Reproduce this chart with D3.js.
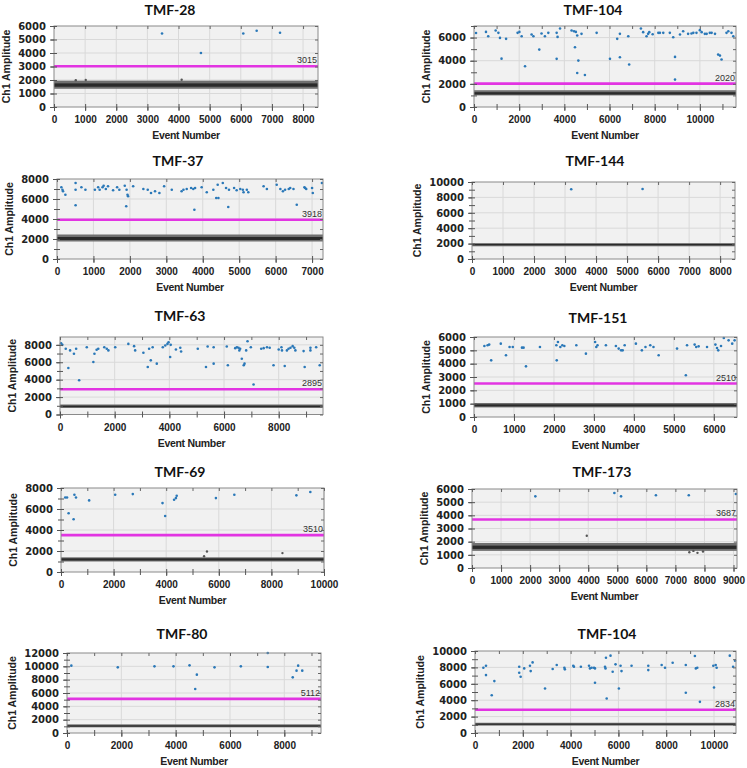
<!DOCTYPE html>
<html><head><meta charset="utf-8">
<script src="https://cdn.jsdelivr.net/npm/d3@7"></script>
<style>body{margin:0;background:#fff}</style>
</head><body>
<svg id="c" width="747" height="768"></svg>
<script>
// ---------- DATA ----------
const panelTitles = ["TMF-28","TMF-104","TMF-37","TMF-144","TMF-63","TMF-151","TMF-69","TMF-173","TMF-80","TMF-104"];
const thresholds  = [3015, 2020, 3918, null, 2895, 2510, 3510, 3687, 5112, 2834];
const xMax        = [8480, 11600, 7300, 8480, 9620, 6580, 10000, 9120, 9350, 10920];
const yMax        = [6000, 7000, 8000, 10000, 8900, 6000, 8000, 6000, 12000, 10000];
const xLabelStep  = [1000, 2000, 1000, 1000, 2000, 1000, 2000, 1000, 2000, 2000];
const yLabelStep  = [1000, 2000, 2000, 2000, 2000, 1000, 2000, 1000, 2000, 2000];
const minorStep   = 1000;
// negative droplet cloud (outer band and dense core), amplitude
const bandLow  = [1350, 1000, 1750, 1650, 750, 720, 1000, 1300, 850, 900];
const bandHigh = [1950, 1450, 2450, 2050, 1150, 1050, 1400, 1900, 1300, 1250];
const coreLow  = [1500, 1080, 1900, 1780, 850, 800, 1100, 1450, 950, 1000];
const coreHigh = [1750, 1280, 2200, 1960, 1020, 950, 1300, 1700, 1150, 1150];

// positive droplets [event number, amplitude]
const pos28 = [[3470,5450],[4720,4000],[6080,5450],[6510,5650],[7260,5500]];
const pos104a = [[90,6400],[530,6490],[630,6120],[960,6610],[1080,6410],[1150,5970],[1220,4180],[1420,5890],[1930,6410],[2010,6490],[2110,6120],[2260,3520],[2550,6260],[2630,6120],[2890,4960],[2990,6350],[3140,6120],[3290,6410],[3660,6410],[3660,4160],[3700,6060],[3810,6780],[4320,6610],[4430,6550],[4470,5170],[4510,6490],[4570,6180],[4570,2940],[4620,4010],[4760,6320],[4910,2770],[5430,6410],[6020,4160],[6340,5890],[6460,6320],[6460,4300],[6830,6120],[6870,3670],[7390,6780],[7490,6470],[7640,6120],[7710,6320],[7760,6470],[7910,6290],[8160,6410],[8230,6410],[8380,6410],[8670,6410],[8820,6030],[8900,4330],[8900,2370],[9120,6260],[9260,6550],[9480,6320],[9630,6350],[9710,6410],[9850,6410],[10000,6640],[10080,6470],[10220,6320],[10300,6320],[10440,6410],[10520,6410],[10670,6320],[10810,4530],[10890,4440],[10960,4100],[11180,6410],[11260,6550],[11400,6410],[11480,6120]];
const pos37 = [[120,7170],[150,6930],[165,6770],[230,6430],[510,7600],[510,6930],[510,5370],[670,7170],[780,6930],[1040,6930],[1130,7170],[1170,6930],[1250,7170],[1280,7330],[1340,7000],[1400,7270],[1540,6870],[1650,7170],[1710,6930],[1860,7330],[1910,6930],[1935,6430],[1950,6270],[1900,5270],[2090,7270],[2370,7000],[2490,6930],[2580,6600],[2690,6770],[2810,6600],[2940,7270],[3150,6930],[3420,6770],[3470,6930],[3560,7000],[3680,7100],[3740,7000],[3790,7100],[3770,4930],[3970,7170],[4110,6670],[4290,6930],[4370,6100],[4430,6100],[4410,7430],[4550,7600],[4640,7100],[4720,6930],[4700,5200],[4860,7100],[4930,6870],[5030,7000],[5100,6930],[5120,6670],[5210,6930],[5250,6670],[5670,7270],[5760,7000],[6030,7430],[6130,7000],[6200,6770],[6260,6930],[6360,7000],[6400,7100],[6490,7000],[6580,5430],[6790,7170],[6810,7100],[6840,7000],[7000,7100],[7020,6600],[7270,7600]];
const pos144 = [[3200,9050],[5500,9100]];
const pos63 = [[40,8190],[85,8000],[210,7550],[305,5340],[370,7360],[510,6980],[590,7550],[700,3940],[980,7730],[1220,6030],[1260,6980],[1340,7430],[1400,7550],[1620,7730],[1710,7550],[1770,7360],[2020,7730],[2500,8110],[2710,7850],[2750,7360],[3050,7090],[3210,5460],[3260,7550],[3320,6220],[3390,7730],[3540,5840],[3760,7730],[3850,7920],[3930,8110],[3970,8300],[4030,6600],[4050,8000],[4240,7470],[4400,7660],[4430,7240],[5040,7550],[5340,5460],[5400,7810],[5620,5840],[5620,7730],[6100,7810],[6140,5650],[6410,7620],[6470,7730],[6530,7660],[6560,7360],[6590,7550],[6650,6410],[6720,5650],[6750,5840],[6810,7360],[6860,8420],[6980,7730],[7080,3450],[7360,7550],[7450,7620],[7570,7730],[7670,7660],[7810,5650],[8000,7470],[8100,7730],[8120,7360],[8220,5570],[8300,7360],[8360,7550],[8430,7660],[8510,7850],[8570,7660],[8610,7360],[8910,7280],[8950,5460],[9160,7660],[9160,7360],[9370,7730],[9500,5650]];
const pos151 = [[260,5330],[340,5380],[380,5430],[430,4250],[670,5500],[800,4630],[890,5250],[970,5250],[1200,5200],[1240,5200],[1300,3800],[1650,5250],[2060,5380],[2070,4250],[2100,5630],[2160,5250],[2210,5380],[2260,5330],[2560,5380],[2800,4750],[3030,5630],[3060,5250],[3090,5380],[3300,5380],[3550,5330],[3620,5130],[3680,5000],[3720,5000],[3770,5380],[4050,5500],[4200,5000],[4290,5250],[4410,5380],[4490,5250],[4620,4630],[5080,5130],[5300,3130],[5330,5380],[5520,5430],[5560,5250],[5620,5300],[5830,5250],[6040,5430],[6080,5180],[6110,5000],[6180,5330],[6250,5930],[6370,5750],[6460,5500],[6520,5750]];
const pos69 = [[160,7100],[230,7100],[290,5600],[480,5020],[510,7360],[570,7100],[1070,6820],[2060,7360],[2730,7420],[3860,6560],[3960,5340],[4300,6880],[4370,7040],[4400,7260],[5890,7040],[6590,7360],[8950,7300],[9480,7620]];
const pos173 = [[2180,5440],[4900,5700],[5130,5440],[6330,5520],[7460,5520],[9080,5620]];
const pos80 = [[160,10100],[1870,9850],[3220,10000],[3920,10000],[4510,10150],[4780,8750],[4720,6600],[5430,9850],[6400,10000],[7390,12000],[7390,9900],[8310,8350],[8450,9350],[8510,10100],[8660,9350]];
const pos104b = [[350,7960],[460,8200],[460,7060],[700,4610],[810,6330],[1850,8080],[1850,7350],[1910,6860],[2060,7880],[2300,8200],[2330,7550],[2410,8610],[2930,5430],[3250,7800],[3420,8290],[3740,7960],[3760,7760],[4110,8200],[4140,8080],[4430,8080],[4770,8200],[4810,7880],[4880,7960],[4980,7960],[5020,6120],[5020,7880],[5440,8080],[5460,7880],[5480,9180],[5510,4200],[5670,9430],[5760,7470],[5880,8370],[6020,5430],[6090,8200],[6130,7550],[6550,8200],[7250,8200],[7250,7670],[7810,8290],[7950,7960],[8270,8570],[8820,8290],[8820,4900],[9200,9390],[9240,7880],[9300,7960],[9410,3800],[9970,8200],[10000,5550],[10070,8290],[10110,7960],[10660,9430],[10800,8080],[10880,8820]];
const positives = [pos28,pos104a,pos37,pos144,pos63,pos151,pos69,pos173,pos80,pos104b];

// stray grey droplets between clusters
const gray28 = [[700,1980],[1020,2000],[4100,2020]];
const gray173 = [[3950,2450],[7480,1200],[7620,1300],[7760,1150],[7950,1250]];
const gray69 = [[5440,1500],[5550,1950],[8420,1800]];
const grays = [gray28,[],[],[],[],[],gray69,gray173,[],[]];

// ---------- LAYOUT ----------
const layout = [
 {l:54, r:318, t:26,  b:107, tx:170, ty:15},
 {l:474,r:736, t:26,  b:107, tx:593, ty:15},
 {l:57, r:323, t:179, b:259, tx:178, ty:166},
 {l:472,r:735, t:182, b:259, tx:595, ty:166},
 {l:60, r:323, t:337, b:414.5, tx:180, ty:321},
 {l:474,r:737, t:337, b:417, tx:598, ty:323},
 {l:61, r:324, t:488, b:572, tx:180, ty:477},
 {l:472,r:737, t:489, b:568, tx:602, ty:477},
 {l:67, r:321, t:653, b:733, tx:182, ty:639},
 {l:475,r:736, t:651, b:733, tx:607, ty:639}
];

const svg = d3.select("#c");
const tickFontY = "bold 10px 'DejaVu Sans'";
const tickFontX = "bold 10px 'Liberation Sans'";

panelTitles.forEach((title,i)=>{
  const L = layout[i];
  const x = d3.scaleLinear().domain([0,xMax[i]]).range([L.l,L.r]);
  const y = d3.scaleLinear().domain([0,yMax[i]]).range([L.b,L.t]);
  const g = svg.append("g");
  const xMaj = d3.range(0, xMax[i]+1, xLabelStep[i]);
  const yMaj = d3.range(0, yMax[i]+1, yLabelStep[i]);
  const xMin = d3.range(0, xMax[i]+1, minorStep);
  const yMin = d3.range(0, yMax[i]+1, minorStep);

  g.append("rect").attr("x",x(0)).attr("y",y(yMax[i])).attr("width",x(xMax[i])-x(0)).attr("height",y(0)-y(yMax[i])).attr("fill","#f1f1f1");
  // grid
  g.selectAll(".gx").data(xMaj.filter(v=>v>0)).join("line").attr("x1",d=>x(d)).attr("x2",d=>x(d)).attr("y1",y(0)).attr("y2",y(yMax[i])).attr("stroke","#d9d9d9").attr("stroke-width",1);
  g.selectAll(".gy").data(yMaj.filter(v=>v>0&&v<yMax[i])).join("line").attr("y1",d=>y(d)).attr("y2",d=>y(d)).attr("x1",x(0)).attr("x2",x(xMax[i])).attr("stroke","#d9d9d9").attr("stroke-width",1);

  // negative cloud
  g.append("rect").attr("x",x(0)).attr("width",x(xMax[i])-x(0)).attr("y",y(bandHigh[i])).attr("height",y(bandLow[i])-y(bandHigh[i])).attr("fill","#707070");
  g.append("rect").attr("x",x(0)).attr("width",x(xMax[i])-x(0)).attr("y",y(coreHigh[i])).attr("height",y(coreLow[i])-y(coreHigh[i])).attr("fill","#2a2a2a");
  g.selectAll(".gp").data(grays[i]).join("circle").attr("cx",d=>x(d[0])).attr("cy",d=>y(d[1])).attr("r",1.2).attr("fill","#555");

  // threshold
  if (thresholds[i] !== null) {
    g.append("line").attr("x1",x(0)).attr("x2",x(xMax[i])).attr("y1",y(thresholds[i])).attr("y2",y(thresholds[i])).attr("stroke","#e234e2").attr("stroke-width",2.6);
    g.append("text").attr("x",x(xMax[i])-1).attr("y",y(thresholds[i])-3).attr("text-anchor","end").style("font","9px 'Liberation Sans'").attr("fill","#333").text(thresholds[i]);
  }
  // positives
  g.selectAll(".pp").data(positives[i]).join("circle").attr("cx",d=>x(d[0])).attr("cy",d=>y(d[1])).attr("r",1.3).attr("fill","#2a78b8");

  // frame
  g.append("rect").attr("x",x(0)).attr("y",y(yMax[i])).attr("width",x(xMax[i])-x(0)).attr("height",y(0)-y(yMax[i])).attr("fill","none").attr("stroke","#8a8a8a").attr("stroke-width",1);

  // axes
  const ax = g.append("g").attr("transform",`translate(0,${y(0)})`).call(d3.axisBottom(x).tickValues(xMaj).tickSize(4).tickPadding(5).tickFormat(d3.format("d")));
  ax.select(".domain").remove();
  ax.selectAll("line").attr("stroke","#555");
  ax.selectAll("text").style("font",tickFontX).attr("fill","#222");
  const axm = g.append("g").attr("transform",`translate(0,${y(0)})`).call(d3.axisBottom(x).tickValues(xMin).tickSize(3).tickFormat(""));
  axm.select(".domain").remove(); axm.selectAll("line").attr("stroke","#555").attr("transform","translate(0,-3)").attr("y2",6);
  const axt = g.append("g").attr("transform",`translate(0,${y(yMax[i])})`).call(d3.axisBottom(x).tickValues(xMin).tickSize(3).tickFormat(""));
  axt.select(".domain").remove(); axt.selectAll("line").attr("stroke","#666");

  const ay = g.append("g").attr("transform",`translate(${x(0)},0)`).call(d3.axisLeft(y).tickValues(yMaj).tickSize(4).tickPadding(4).tickFormat(d3.format("d")));
  ay.select(".domain").remove();
  ay.selectAll("line").attr("stroke","#555");
  ay.selectAll("text").style("font",tickFontY).attr("fill","#222");
  const aym = g.append("g").attr("transform",`translate(${x(0)},0)`).call(d3.axisLeft(y).tickValues(yMin).tickSize(3).tickFormat(""));
  aym.select(".domain").remove(); aym.selectAll("line").attr("stroke","#555").attr("transform","translate(3,0)").attr("x2",-6);
  const ayr = g.append("g").attr("transform",`translate(${x(xMax[i])},0)`).call(d3.axisLeft(y).tickValues(yMin).tickSize(3).tickFormat(""));
  ayr.select(".domain").remove(); ayr.selectAll("line").attr("stroke","#666");

  // y-label position from the widest tick label
  let maxW = 0;
  ay.selectAll("text").each(function(){ maxW = Math.max(maxW, this.getBBox().width); });
  const ylx = x(0) - 8 - maxW - 8;
  const ylY = (y(0)+y(yMax[i]))/2;
  g.append("text").attr("transform",`translate(${ylx},${ylY}) rotate(-90)`).attr("text-anchor","middle")
    .style("font","bold 10.5px 'Liberation Sans'").attr("fill","#222").text("Ch1 Amplitude");
  g.append("text").attr("x",(x(0)+x(xMax[i]))/2).attr("y",y(0)+32).attr("text-anchor","middle")
    .style("font","bold 10.5px 'Liberation Sans'").style("letter-spacing","-0.3px").attr("fill","#222").text("Event Number");
  g.append("text").attr("x",L.tx).attr("y",L.ty).attr("text-anchor","middle")
    .style("font","bold 14px Lato").attr("fill","#111").text(title);
});
</script></body></html>
